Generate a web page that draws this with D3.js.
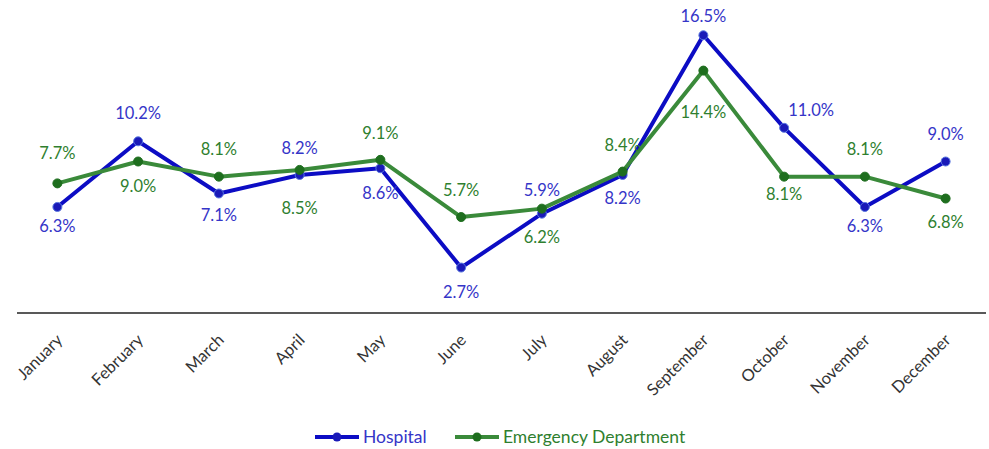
<!DOCTYPE html>
<html>
<head>
<meta charset="utf-8">
<script src="https://cdn.jsdelivr.net/npm/d3@7"></script>
<style>
  body { margin: 0; background: #fff; }
  svg text { font-family: Lato, "Open Sans", sans-serif; }
</style>
</head>
<body>
<div id="chart"></div>
<script>
const months = ["January", "February", "March", "April", "May", "June",
  "July", "August", "September", "October", "November", "December"];
const hospital = [6.3, 10.2, 7.1, 8.2, 8.6, 2.7, 5.9, 8.2, 16.5, 11.0, 6.3, 9.0];
const emergency = [7.7, 9.0, 8.1, 8.5, 9.1, 5.7, 6.2, 8.4, 14.4, 8.1, 8.1, 6.8];

// label nudges [dx, dy] relative to each point
const hospLabelOffset = [[0, 19], [0, -28], [0, 22], [0, -27], [0, 25], [0, 25],
  [0, -23], [0, 23], [0, -19], [27, -18], [0, 19], [0, -27]];
const edLabelOffset = [[0, -30], [0, 25], [0, -27], [0, 38], [0, -27], [0, -27],
  [0, 29], [0, -26], [0, 42], [0, 18], [0, -27], [0, 24]];

const W = 989, H = 449;
const svg = d3.select("#chart").append("svg")
  .attr("width", W).attr("height", H);

const x = d3.scaleBand()
  .domain(months)
  .range([17, 986]);

const y = d3.scaleLinear()
  .domain([0, 18])
  .range([313, 10]);

// x axis line
svg.append("line")
  .attr("x1", 17).attr("x2", 986)
  .attr("y1", y(0)).attr("y2", y(0))
  .attr("stroke", "#222").attr("stroke-width", 1.5);

// month labels
svg.selectAll(".month")
  .data(months)
  .enter()
  .append("text")
  .attr("class", "month")
  .attr("transform", d => `translate(${x(d) + x.bandwidth() / 2 + 2},${y(0) + 24}) rotate(-45)`)
  .attr("text-anchor", "end")
  .attr("dy", "0.35em")
  .attr("font-size", "16.5px")
  .attr("fill", "#333")
  .text(d => d);

const cx = (d, i) => x(months[i]) + x.bandwidth() / 2;

const series = [
  { name: "Emergency Department", values: emergency, offsets: edLabelOffset,
    line: "#3a8a3a", dot: "#1e6e1e", dotStroke: "#1e6e1e", label: "#2f7f2f" },
  { name: "Hospital", values: hospital, offsets: hospLabelOffset,
    line: "#0c0cc4", dot: "#1a1ab8", dotStroke: "#5a78e0", label: "#3535c8" }
];

const line = d3.line()
  .x(cx)
  .y(d => y(d));

const drawOrder = [series[1], series[0]];

drawOrder.forEach(s => {
  svg.append("path")
    .datum(s.values)
    .attr("fill", "none")
    .attr("stroke", s.line)
    .attr("stroke-width", 4)
    .attr("stroke-linejoin", "round")
    .attr("d", line);

  svg.selectAll(null)
    .data(s.values)
    .enter()
    .append("circle")
    .attr("cx", cx)
    .attr("cy", d => y(d))
    .attr("r", 4.5)
    .attr("fill", s.dot)
    .attr("stroke", s.dotStroke)
    .attr("stroke-width", 1);
});

series.forEach(s => {
  svg.selectAll(null)
    .data(s.values)
    .enter()
    .append("text")
    .attr("x", (d, i) => cx(d, i) + s.offsets[i][0])
    .attr("y", (d, i) => y(d) + s.offsets[i][1])
    .attr("dy", "0.35em")
    .attr("text-anchor", "middle")
    .attr("font-size", "16.5px")
    .attr("fill", s.label)
    .text(d => `${d.toFixed(1)}%`);
});

// legend
const legend = [
  { name: "Hospital", x: 315, line: "#0c0cc4", dot: "#1a1ab8", text: "#3535c8" },
  { name: "Emergency Department", x: 455, line: "#3a8a3a", dot: "#1e6e1e", text: "#2f7f2f" }
];
const lg = svg.selectAll(".legend")
  .data(legend)
  .enter()
  .append("g")
  .attr("class", "legend")
  .attr("transform", d => `translate(${d.x},437)`);

lg.append("line")
  .attr("x1", 0).attr("x2", 44)
  .attr("stroke", d => d.line)
  .attr("stroke-width", 4);

lg.append("circle")
  .attr("cx", 22).attr("r", 4.5)
  .attr("fill", d => d.dot);

lg.append("text")
  .attr("x", 48)
  .attr("dy", "0.35em")
  .attr("font-size", "17.5px")
  .attr("fill", d => d.text)
  .text(d => d.name);
</script>
</body>
</html>
